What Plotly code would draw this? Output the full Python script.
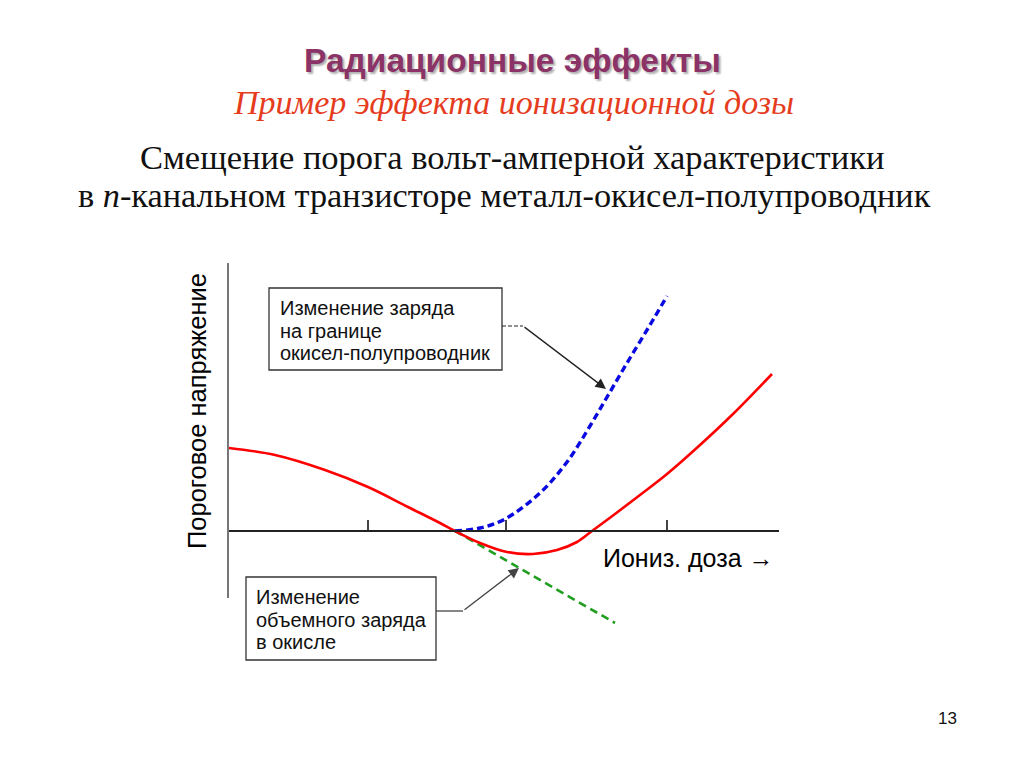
import plotly.graph_objects as go

# ---------------- data (arbitrary units: dose, threshold voltage) ----------------
RED_DOSE = [0.0, 0.46, 0.96, 1.39, 1.79, 2.11, 2.26, 2.51, 2.78, 3.04, 3.28, 3.48,
            3.63, 3.86, 4.11, 4.38, 4.71, 5.04, 5.43]
RED_VT = [0.83, 0.76, 0.61, 0.44, 0.24, 0.08, 0.00, -0.12, -0.21, -0.23, -0.19, -0.11,
          0.00, 0.17, 0.36, 0.57, 0.86, 1.17, 1.57]

BLUE_DOSE = [2.26, 2.51, 2.76, 3.11, 3.38, 3.61, 3.81, 4.01, 4.21, 4.38]
BLUE_VT = [0.00, 0.03, 0.12, 0.38, 0.69, 1.05, 1.39, 1.73, 2.06, 2.35]

GREEN_DOSE = [2.26, 2.89, 3.86]
GREEN_VT = [0.00, -0.36, -0.92]

DOSE_TICKS = [1.39, 2.77, 4.38]

# arrow targets (points on curves) and tails
ARROW_BLUE_TIP = (3.77, 1.42)
ARROW_BLUE_TAIL = (2.94, 2.05)
ARROW_GREEN_TIP = (2.90, -0.37)
ARROW_GREEN_TAIL = (2.34, -0.80)

TITLE = "Радиационные эффекты"
SUBTITLE = "Пример эффекта ионизационной дозы"
LINE1 = "Смещение порога вольт-амперной характеристики"
LINE2 = "в <i>n</i>-канальном транзисторе металл-окисел-полупроводник"
Y_TITLE = "Пороговое напряжение"
X_TITLE = "Иониз. доза →"
BOX1 = ["Изменение заряда", "на границе", "окисел-полупроводник"]
BOX2 = ["Изменение", "объемного заряда", "в окисле"]
PAGE = "13"

W, H = 1024, 768


def pxx(p):
    return p / W


def pxy(p):
    return 1 - p / H


SANS = "Liberation Sans, Arial, sans-serif"
SERIF = "Liberation Serif, Times New Roman, serif"

fig = go.Figure()

# empty trace to establish the visible axes subplot
fig.add_trace(go.Scatter(x=[], y=[], xaxis="x2", yaxis="y2", showlegend=False,
                         hoverinfo="skip"))

fig.add_trace(go.Scatter(x=GREEN_DOSE, y=GREEN_VT, mode="lines",
                         line=dict(color="#1f9e1f", width=2.6, dash="8px,5px"),
                         showlegend=False))
fig.add_trace(go.Scatter(x=BLUE_DOSE, y=BLUE_VT, mode="lines",
                         line=dict(color="#0a0ae0", width=3.4, dash="7px,4px",
                                   shape="spline", smoothing=1),
                         showlegend=False))
fig.add_trace(go.Scatter(x=RED_DOSE, y=RED_VT, mode="lines",
                         line=dict(color="#ff0000", width=2.6, shape="spline",
                                   smoothing=1),
                         showlegend=False))

ann = []
ann.append(dict(text=TITLE, x=pxx(512), y=pxy(60), xref="paper", yref="paper",
                showarrow=False, xanchor="center", yanchor="middle",
                font=dict(family=SANS, size=33.5, color="#8b3366", weight="bold",
                          shadow="2px 2px 2px #b0b0b0")))
ann.append(dict(text=f"<i>{SUBTITLE}</i>", x=pxx(513), y=pxy(102), xref="paper",
                yref="paper", showarrow=False, xanchor="center", yanchor="middle",
                font=dict(family=SERIF, size=34, color="#e63c1e")))
ann.append(dict(text=LINE1, x=pxx(512), y=pxy(157), xref="paper", yref="paper",
                showarrow=False, xanchor="center", yanchor="middle",
                font=dict(family=SERIF, size=34.5, color="#111111")))
ann.append(dict(text=LINE2, x=pxx(504), y=pxy(195), xref="paper", yref="paper",
                showarrow=False, xanchor="center", yanchor="middle",
                font=dict(family=SERIF, size=34.3, color="#111111")))
ann.append(dict(text=Y_TITLE, x=pxx(197), y=pxy(411), xref="paper", yref="paper",
                showarrow=False, textangle=-90, xanchor="center", yanchor="middle",
                font=dict(family=SANS, size=25.5, color="#000000")))
ann.append(dict(text=X_TITLE, x=pxx(601), y=pxy(558), xref="paper", yref="paper",
                showarrow=False, xanchor="left", yanchor="middle",
                font=dict(family=SANS, size=25, color="#000000")))

BOX1_Y = [308, 330.5, 353]
BOX2_Y = [597, 619.5, 642]
for line, yy in zip(BOX1, BOX1_Y):
    ann.append(dict(text=line, x=pxx(278), y=pxy(yy), xref="paper", yref="paper",
                    showarrow=False, xanchor="left", yanchor="middle",
                    font=dict(family=SANS, size=20, color="#111111")))
for line, yy in zip(BOX2, BOX2_Y):
    ann.append(dict(text=line, x=pxx(254), y=pxy(yy), xref="paper", yref="paper",
                    showarrow=False, xanchor="left", yanchor="middle",
                    font=dict(family=SANS, size=20, color="#111111")))

ann.append(dict(text=PAGE, x=pxx(947), y=pxy(718), xref="paper", yref="paper",
                showarrow=False, xanchor="center", yanchor="middle",
                font=dict(family=SANS, size=17, color="#111111")))
# arrows
ann.append(dict(text="", x=ARROW_BLUE_TIP[0], y=ARROW_BLUE_TIP[1], xref="x", yref="y",
                ax=ARROW_BLUE_TAIL[0], ay=ARROW_BLUE_TAIL[1], axref="x", ayref="y",
                showarrow=True, arrowhead=2, arrowsize=1.6, arrowwidth=1.3,
                arrowcolor="#222222", standoff=0))
ann.append(dict(text="", x=ARROW_GREEN_TIP[0], y=ARROW_GREEN_TIP[1], xref="x", yref="y",
                ax=ARROW_GREEN_TAIL[0], ay=ARROW_GREEN_TAIL[1], axref="x", ayref="y",
                showarrow=True, arrowhead=2, arrowsize=1.6, arrowwidth=1.3,
                arrowcolor="#444444", standoff=0))

shapes = []
shapes.append(dict(type="rect", xref="paper", yref="paper",
                   x0=pxx(269), x1=pxx(502), y0=pxy(370), y1=pxy(288),
                   line=dict(color="#333333", width=1.3), fillcolor="white",
                   layer="below"))
shapes.append(dict(type="rect", xref="paper", yref="paper",
                   x0=pxx(246), x1=pxx(436), y0=pxy(660), y1=pxy(577),
                   line=dict(color="#333333", width=1.3), fillcolor="white",
                   layer="below"))
shapes.append(dict(type="line", xref="paper", yref="paper",
                   x0=pxx(502), x1=pxx(523), y0=pxy(326), y1=pxy(326),
                   line=dict(color="#222222", width=1, dash="4px,2px")))
shapes.append(dict(type="line", xref="paper", yref="paper",
                   x0=pxx(436), x1=pxx(463), y0=pxy(611), y1=pxy(611),
                   line=dict(color="#444444", width=1.3)))

fig.update_layout(
    width=W, height=H,
    margin=dict(l=0, r=0, t=0, b=0),
    paper_bgcolor="white", plot_bgcolor="rgba(0,0,0,0)",
    showlegend=False,
    xaxis=dict(domain=[0, 1], range=[-2.29, 7.95], visible=False, fixedrange=True),
    yaxis=dict(domain=[0, 1], range=[-2.37, 5.31], visible=False, fixedrange=True),
    xaxis2=dict(domain=[pxx(229), pxx(779)], range=[0, 5.5], anchor="free",
                position=pxy(531), showline=True, linecolor="#222222", linewidth=1.5,
                ticks="inside", tickvals=DOSE_TICKS, ticklen=10, tickwidth=1.6,
                tickcolor="#444444", showticklabels=False, showgrid=False,
                zeroline=False, fixedrange=True),
    yaxis2=dict(domain=[pxy(598), pxy(263)], range=[-0.67, 2.68], anchor="x2",
                showline=True, linecolor="#777777", linewidth=2.2, ticks="",
                showticklabels=False, showgrid=False, zeroline=False,
                fixedrange=True),
    annotations=ann,
    shapes=shapes,
)

fig.write_html("out.html", config={"displayModeBar": False},
               post_script="document.body.style.margin='0';")
